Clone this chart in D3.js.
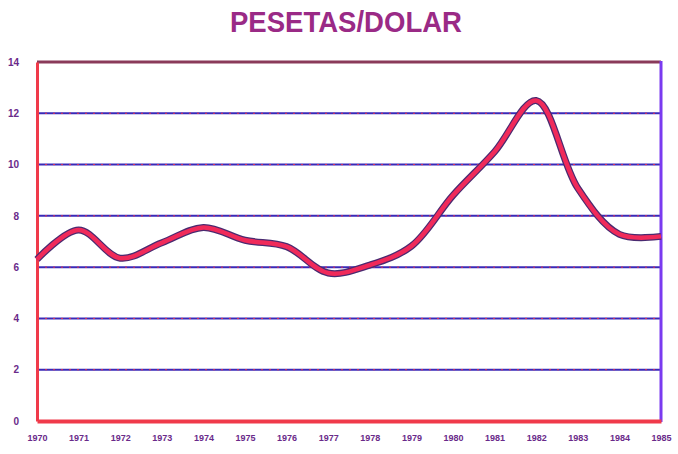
<!DOCTYPE html>
<html><head><meta charset="utf-8">
<script src="https://cdn.jsdelivr.net/npm/d3@7"></script>
<style>body{margin:0;background:#fff;}svg{display:block;}</style>
</head><body>
<svg id="c" width="678" height="454"></svg>
<script>
const years = ["1970","1971","1972","1973","1974","1975","1976","1977","1978","1979","1980","1981","1982","1983","1984","1985"];
const values = [6.3,7.45,6.35,6.95,7.55,7.05,6.8,5.77,6.08,6.82,8.8,10.5,12.5,9.08,7.28,7.2];
const yTicks = [0,2,4,6,8,10,12,14];
const title = "PESETAS/DOLAR";

const svg = d3.select("#c");
const L = 37, R = 661, T = 62, B = 421;
const x = d3.scalePoint().domain(years).range([L, R]).padding(0);
const y = d3.scaleLinear().domain([0, 14]).range([B, T]);

// title
svg.append("text").attr("x", 230).attr("y", 32)
  .attr("textLength", 232).attr("lengthAdjust", "spacingAndGlyphs")
  .attr("font-family", "Liberation Sans, Arial, sans-serif").attr("font-size", 29)
  .attr("font-weight", "bold")
  .attr("fill", "#9a2a86").text(title);

// gridlines
const grid = yTicks.filter(t => t > 0 && t < 14);
svg.selectAll(".g").data(grid).enter().append("line")
  .attr("x1", L).attr("x2", R).attr("y1", d => y(d)).attr("y2", d => y(d))
  .attr("stroke", "#3a2ab8").attr("stroke-width", 2);
svg.selectAll(".g2").data(grid).enter().append("line")
  .attr("x1", L).attr("x2", R).attr("y1", d => y(d)).attr("y2", d => y(d))
  .attr("stroke", "#e03050").attr("stroke-width", 1).attr("stroke-dasharray", "2,6");

// top border
svg.append("line").attr("x1", L).attr("x2", R).attr("y1", y(14)).attr("y2", y(14))
  .attr("stroke", "#8a3a5a").attr("stroke-width", 3);
// right border
svg.append("line").attr("x1", R).attr("x2", R).attr("y1", y(14) - 1).attr("y2", B + 1)
  .attr("stroke", "#7a3af0").attr("stroke-width", 3);

// axes
const yAxis = d3.axisLeft(y).tickValues(yTicks).tickSize(0).tickPadding(18);
const gy = svg.append("g").attr("transform", `translate(${L},0)`).call(yAxis);
gy.select(".domain").attr("stroke", "#f03a4a").attr("stroke-width", 3);
gy.selectAll("text").attr("font-family", "Liberation Sans, Arial, sans-serif")
  .attr("font-size", 10).attr("font-weight", "bold").attr("fill", "#6a2a8a");

const xAxis = d3.axisBottom(x).tickSize(0).tickPadding(14);
const gx = svg.append("g").attr("transform", `translate(0,${B})`).call(xAxis);
gx.select(".domain").attr("stroke", "#f03a4a").attr("stroke-width", 4);
gx.selectAll("text").attr("font-family", "Liberation Sans, Arial, sans-serif")
  .attr("font-size", 9).attr("font-weight", "bold").attr("fill", "#6a2a8a");

// line
const line = d3.line().x((d, i) => x(years[i])).y(d => y(d)).curve(d3.curveCatmullRom.alpha(0.5));
svg.append("path").datum(values).attr("d", line).attr("fill", "none")
  .attr("stroke", "#4a2a70").attr("stroke-width", 7).attr("stroke-linejoin", "round");
svg.append("path").datum(values).attr("d", line).attr("fill", "none")
  .attr("stroke", "#f02a5a").attr("stroke-width", 4.5).attr("stroke-linejoin", "round");
</script>
</body></html>
